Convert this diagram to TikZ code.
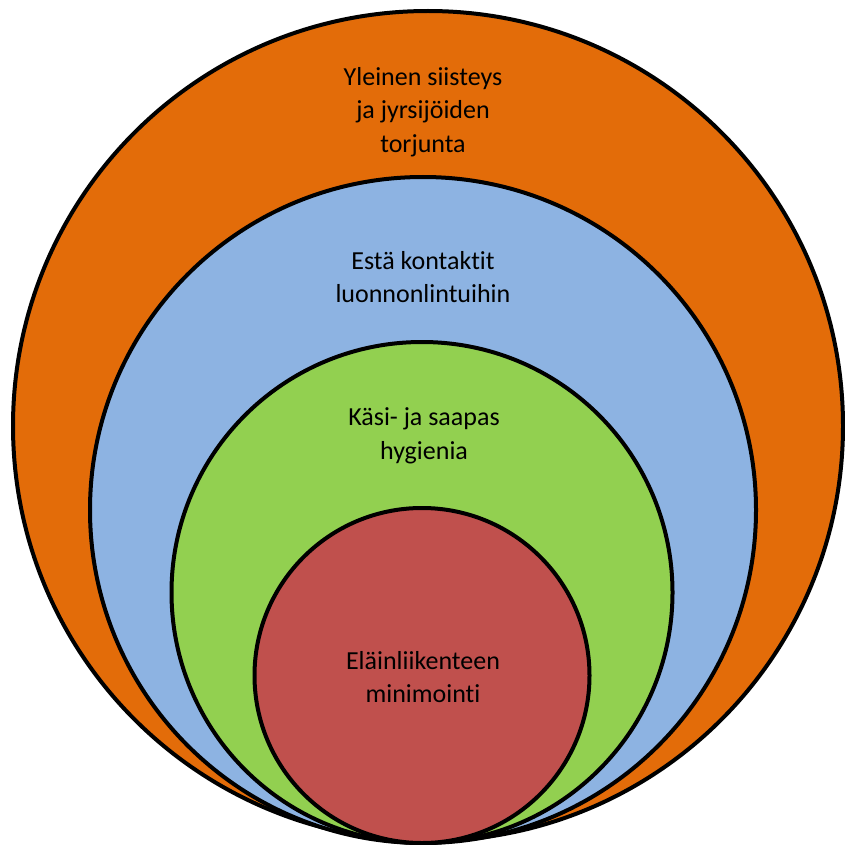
\documentclass[tikz,border=0pt]{standalone}
\usepackage{fontspec}
\setmainfont[RawFeature={-liga}]{Carlito}
\definecolor{corange}{HTML}{E36C09}
\definecolor{cblue}{HTML}{8DB3E2}
\definecolor{cgreen}{HTML}{92D050}
\definecolor{cred}{HTML}{C0504D}
\begin{document}
\begin{tikzpicture}[x=1pt,y=-1pt,
  ring/.style={circle, draw=black, line width=4pt, inner sep=0pt},
  lbl/.style={align=center, font=\fontsize{26}{33.5}\selectfont, text=black}]
\useasboundingbox (0,0) rectangle (844,845);
\node[ring, fill=corange, minimum size=830pt] (c1) at (428,426) {};
\node[ring, fill=cblue, minimum size=666pt] (c2) at (423,510) {};
\node[ring, fill=cgreen, minimum size=501pt] (c3) at (422,592.5) {};
\node[ring, fill=cred, minimum size=335pt] (c4) at (422,675.5) {};
\node[lbl] (t1) at (423,112) {Yleinen siisteys\\ja jyrsijöiden\\torjunta};
\node[lbl] (t2) at (423,277) {Estä kontaktit\\luonnonlintuihin};
\node[lbl] (t3) at (424,436) {Käsi- ja saapas\\hygienia};
\node[lbl] (t4) at (423,677) {Eläinliikenteen\\minimointi};
\end{tikzpicture}
\end{document}
